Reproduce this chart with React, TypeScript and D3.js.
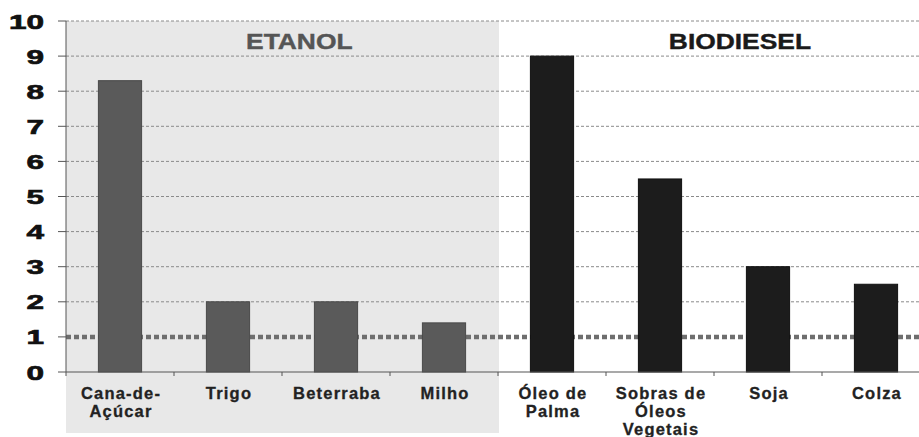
import React from "react";
import * as d3 from "d3";

const categories = ["Cana-de-Açúcar", "Trigo", "Beterraba", "Milho", "Óleo de Palma", "Sobras de Óleos Vegetais", "Soja", "Colza"];
const labelLines = [["Cana-de-", "Açúcar"], ["Trigo"], ["Beterraba"], ["Milho"], ["Óleo de", "Palma"], ["Sobras de", "Óleos", "Vegetais"], ["Soja"], ["Colza"]];
const values = [8.3, 2.0, 2.0, 1.4, 9.0, 5.5, 3.0, 2.5];
const groups = ["ETANOL", "ETANOL", "ETANOL", "ETANOL", "BIODIESEL", "BIODIESEL", "BIODIESEL", "BIODIESEL"];
const groupNames = ["ETANOL", "BIODIESEL"];
const yTicks = [0, 1, 2, 3, 4, 5, 6, 7, 8, 9, 10];
const referenceValue = 1;

const W = 919, H = 437;
const left = 66, right = 930, top = 21, bottom = 372;
const FONT = "'Liberation Sans', Arial, sans-serif";

export default function App() {
  const x = d3.scaleBand<string>().domain(categories).range([left, right]).paddingInner(0.6).paddingOuter(0.3);
  const xOuter = d3.scaleBand<string>().domain(categories).range([left, right]);
  const y = d3.scaleLinear().domain([0, 10]).range([bottom, top]);

  const etanolCats = categories.filter((_, i) => groups[i] === "ETANOL");
  const bioCats = categories.filter((_, i) => groups[i] === "BIODIESEL");
  const etX0 = xOuter(etanolCats[0])!;
  const etX1 = xOuter(etanolCats[etanolCats.length - 1])! + xOuter.bandwidth();
  const bioX0 = xOuter(bioCats[0])!;
  const bioX1 = xOuter(bioCats[bioCats.length - 1])! + xOuter.bandwidth();

  return (
    <svg width={W} height={H} style={{ position: "absolute", left: 0, top: 0, display: "block" }}>
      <rect x={0} y={0} width={W} height={H} fill="#fff" />
      <rect x={etX0} y={top} width={etX1 - etX0 + 1} height={433 - top} fill="#e8e8e8" />
      {yTicks.filter(t => t !== 0 && t !== referenceValue).map(t => (
        <line key={t} x1={left} x2={W} y1={y(t)} y2={y(t)} stroke="#8a8a8a" strokeWidth={1} strokeDasharray="3,2" />
      ))}
      <text x={0} y={0} transform={`translate(${etX0 + (etX1 - etX0) * 0.54},49) scale(1.2,1)`} textAnchor="middle" fontFamily={FONT} fontWeight="bold" fontSize={22} fill="#555" stroke="#555" strokeWidth={0.4}>{groupNames[0]}</text>
      <text x={0} y={0} transform={`translate(${bioX0 + (bioX1 - bioX0) * 0.56},49) scale(1.2,1)`} textAnchor="middle" fontFamily={FONT} fontWeight="bold" fontSize={22} fill="#1a1a1a" stroke="#1a1a1a" strokeWidth={0.4}>{groupNames[1]}</text>
      <line x1={left} x2={W} y1={y(referenceValue)} y2={y(referenceValue)} stroke="#6e6e6e" strokeWidth={4.5} strokeDasharray="5,3" />
      {categories.map((c, i) => (
        <rect key={c} x={x(c)!} y={y(values[i])} width={x.bandwidth()} height={y(0) - y(values[i])}
          fill={groups[i] === "ETANOL" ? "#5a5a5a" : "#1c1c1c"} stroke={groups[i] === "ETANOL" ? "#4a4a4a" : "#111"} strokeWidth={1} />
      ))}
      <line x1={left} x2={left} y1={top} y2={bottom + 4} stroke="#555" strokeWidth={1} />
      <line x1={left} x2={W} y1={bottom} y2={bottom} stroke="#555" strokeWidth={1.2} />
      {yTicks.map(t => (
        <g key={t}>
          <line x1={58} x2={left} y1={y(t)} y2={y(t)} stroke="#555" strokeWidth={1} />
          <text transform={`translate(44,${y(t) + 7.5}) scale(1.5,1)`} textAnchor="end" fontFamily={FONT} fontWeight="bold" fontSize={21} fill="#111" stroke="#111" strokeWidth={0.7}>{t}</text>
        </g>
      ))}
      {categories.map((c) => (
        <line key={c} x1={xOuter(c)! + xOuter.bandwidth()} x2={xOuter(c)! + xOuter.bandwidth()} y1={bottom} y2={bottom + 4} stroke="#555" strokeWidth={1} />
      ))}
      {categories.map((c, i) => (
        <text key={c} x={xOuter(c)! + xOuter.bandwidth() / 2 + 1} y={399} textAnchor="middle" fontFamily={FONT} fontWeight="bold" fontSize={16.5} letterSpacing={1.2} fill="#222" stroke="#222" strokeWidth={0.3}>
          {labelLines[i].map((l, j) => (
            <tspan key={j} x={xOuter(c)! + xOuter.bandwidth() / 2 + 1} dy={j === 0 ? 0 : 18}>{l}</tspan>
          ))}
        </text>
      ))}
    </svg>
  );
}
